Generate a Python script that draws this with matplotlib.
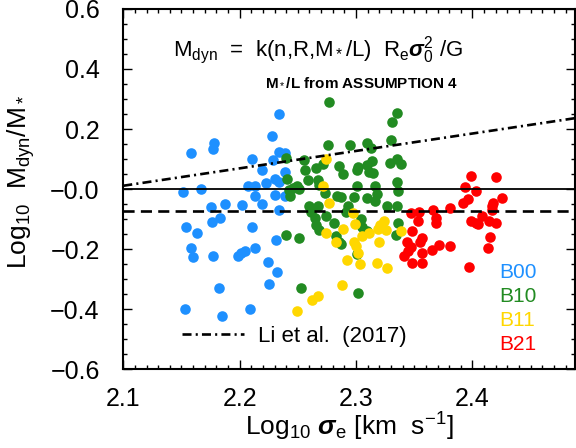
import matplotlib.pyplot as plt
from matplotlib.ticker import MultipleLocator
import numpy as np

plt.rcParams['font.family'] = ['Liberation Sans', 'DejaVu Sans']
plt.rcParams['mathtext.fontset'] = 'custom'
plt.rcParams['mathtext.rm'] = 'Liberation Sans'
plt.rcParams['mathtext.it'] = 'Liberation Sans:italic'
plt.rcParams['mathtext.bf'] = 'Liberation Sans:bold:italic'
plt.rcParams['lines.scale_dashes'] = False

# log sigma_e vs log Mdyn/M*, per group
b00_x = [2.158, 2.178, 2.177, 2.234, 2.228, 2.234, 2.239, 2.211, 2.229, 2.219,
         2.239, 2.151, 2.167, 2.207, 2.213, 2.223, 2.230, 2.234, 2.213, 2.230,
         2.239, 2.175, 2.187, 2.202, 2.219, 2.234, 2.154, 2.163, 2.176, 2.183,
         2.211, 2.158, 2.160, 2.177, 2.199, 2.201, 2.205, 2.213, 2.231, 2.224,
         2.232, 2.225, 2.182, 2.153, 2.185, 2.209]
b00_y = [0.120, 0.154, 0.134, 0.250, 0.177, 0.122, 0.120, 0.101, 0.097, 0.064,
         0.058, -0.011, 0.001, 0.009, 0.011, 0.021, 0.033, 0.025, -0.022, -0.019,
         -0.022, -0.059, -0.049, -0.053, -0.050, -0.071, -0.125, -0.147, -0.110, -0.097,
         -0.127, -0.197, -0.228, -0.222, -0.222, -0.213, -0.206, -0.197, -0.169, -0.243,
         -0.275, -0.315, -0.328, -0.400, -0.422, -0.399]

b10_x = [2.277, 2.276, 2.295, 2.309, 2.240, 2.255, 2.272, 2.266, 2.256, 2.285,
         2.302, 2.301, 2.309, 2.311, 2.289, 2.241, 2.259, 2.267, 2.268, 2.249,
         2.246, 2.242, 2.251, 2.243, 2.301, 2.273, 2.284, 2.287, 2.298, 2.309,
         2.260, 2.267, 2.261, 2.293, 2.291, 2.274, 2.265, 2.266, 2.268, 2.281,
         2.304, 2.305, 2.283, 2.240, 2.251, 2.287, 2.285, 2.301, 2.253, 2.302,
         2.309, 2.330, 2.313, 2.314, 2.329, 2.335, 2.339, 2.316, 2.318, 2.335,
         2.336, 2.316, 2.327, 2.335, 2.336, 2.334, 2.331, 2.335, 2.315]
b10_y = [0.291, 0.147, 0.147, 0.155, 0.103, 0.098, 0.084, 0.069, 0.064, 0.078,
         0.075, 0.064, 0.081, 0.057, 0.051, 0.033, 0.029, 0.029, 0.014, 0.009,
         0.003, -0.002, 0.000, -0.022, 0.009, -0.013, -0.022, -0.028, -0.025, -0.030,
         -0.058, -0.056, -0.075, -0.058, -0.078, -0.089, -0.098, -0.119, -0.138, -0.113,
         -0.100, -0.128, -0.155, -0.152, -0.163, -0.182, -0.175, -0.217, -0.330, -0.345,
         -0.141, 0.162, 0.137, 0.092, 0.087, 0.100, 0.083, 0.011, -0.016, 0.022,
         -0.005, -0.041, -0.058, -0.056, -0.113, -0.153, 0.225, 0.255, 0.053]

b11_x = [2.274, 2.272, 2.277, 2.297, 2.299, 2.289, 2.274, 2.305, 2.283, 2.298,
         2.300, 2.302, 2.292, 2.303, 2.288, 2.267, 2.262, 2.249, 2.324, 2.321,
         2.319, 2.326, 2.339, 2.311, 2.320, 2.318, 2.327]
b11_y = [0.100, 0.011, -0.047, -0.080, -0.117, -0.133, -0.147, -0.158, -0.175, -0.178,
         -0.191, -0.213, -0.236, -0.251, -0.320, -0.356, -0.371, -0.405, -0.105, -0.119,
         -0.133, -0.136, -0.139, -0.147, -0.178, -0.247, -0.263]

b21_x = [2.399, 2.420, 2.394, 2.403, 2.396, 2.392, 2.425, 2.418, 2.417, 2.417,
         2.381, 2.366, 2.347, 2.354, 2.369, 2.369, 2.353, 2.399, 2.403, 2.405,
         2.408, 2.414, 2.420, 2.415, 2.413, 2.348, 2.357, 2.355, 2.344, 2.347,
         2.345, 2.341, 2.371, 2.365, 2.357, 2.381, 2.348, 2.357, 2.397]
b21_y = [0.042, 0.040, 0.006, -0.006, -0.032, -0.047, -0.030, -0.045, -0.058, -0.071,
         -0.063, -0.069, -0.080, -0.078, -0.097, -0.113, -0.108, -0.105, -0.113, -0.116,
         -0.091, -0.108, -0.113, -0.160, -0.198, -0.141, -0.163, -0.178, -0.178, -0.193,
         -0.208, -0.222, -0.186, -0.202, -0.213, -0.191, -0.245, -0.245, -0.260]

groups = ['B00', 'B10', 'B11', 'B21']
colors = ['#1e90ff', '#228b22', '#ffd700', '#ff0000']
xs = [b00_x, b10_x, b11_x, b21_x]
ys = [b00_y, b10_y, b11_y, b21_y]

# reference lines
offset_level = -0.073
li_x0, li_a, li_b = 2.1, 0.011, 0.58   # Li et al. (2017): y = a + b (x - x0)

xlim = (2.1, 2.488)
ylim = (-0.6, 0.6)
xticks = [2.1, 2.2, 2.3, 2.4]
yticks = [-0.6, -0.4, -0.2, 0.0, 0.2, 0.4, 0.6]
ytick_labels = ['\u22120.6', '\u22120.4', '\u22120.2', '\u22120.0', '0.2', '0.4', '0.6']

fig = plt.figure(figsize=(5.76, 4.48), dpi=100)
ax = fig.add_axes([0.214, 0.176, 0.784, 0.804])

for x, y, c in zip(xs, ys, colors):
    ax.scatter(x, y, s=58, color=c, linewidths=0, zorder=2)

ax.axhline(0, color='k', lw=1.3, zorder=3)
ax.axhline(offset_level, color='k', lw=1.9, dashes=(8, 4.5), zorder=3)
lx = np.array(xlim)
ax.plot(lx, li_a + li_b * (lx - li_x0), color='k', lw=1.9,
        dashes=(6.5, 3, 1.5, 3), zorder=3, label='Li et al.  (2017)')

ax.set_xlim(*xlim)
ax.set_ylim(*ylim)
ax.set_xticks(xticks)
ax.set_xticklabels([f'{t:.1f}' for t in xticks])
ax.set_yticks(yticks)
ax.set_yticklabels(ytick_labels)
ax.xaxis.set_minor_locator(MultipleLocator(0.01))
ax.yaxis.set_minor_locator(MultipleLocator(0.05))
ax.tick_params(which='both', direction='in', top=True, right=True, width=1.0,
               labelsize=18)
ax.tick_params(which='major', length=6.5)
ax.tick_params(which='minor', length=3)
ax.tick_params(axis='x', pad=13)
ax.tick_params(axis='y', pad=17)
for sp in ax.spines.values():
    sp.set_linewidth(1.5)

ax.set_xlabel(r'Log$_{10}$ $\mathbf{\sigma}_\mathrm{e}$ [km  s$^{-1}$]', fontsize=19, labelpad=0)
ax.set_ylabel(r'Log$_{10}$  M$_\mathrm{dyn}$/M$_*$', fontsize=19)
ax.yaxis.set_label_coords(-0.19, 0.52)

ax.text(2.143, 0.464, r'M$_\mathrm{dyn}$  =  k(n,R,M$_*$/L)  R$_\mathrm{e}\mathbf{\sigma}_0^2$ /G',
        fontsize=16, va='center', ha='left')
ax.text(2.222, 0.358, r'M$_*$/L from ASSUMPTION 4', fontsize=11, fontweight='bold',
        va='center', ha='left')

for i, (g, c) in enumerate(zip(groups, colors)):
    ax.text(2.423, -0.279 - 0.08 * i, g, color=c, fontsize=15, va='center', ha='left')

ax.legend(loc='center left', bbox_to_anchor=(0.13, 0.092), frameon=False,
          fontsize=16, handlelength=2.8, handletextpad=0.6, borderpad=0,
          borderaxespad=0)

fig.savefig('out.png', dpi=100)
